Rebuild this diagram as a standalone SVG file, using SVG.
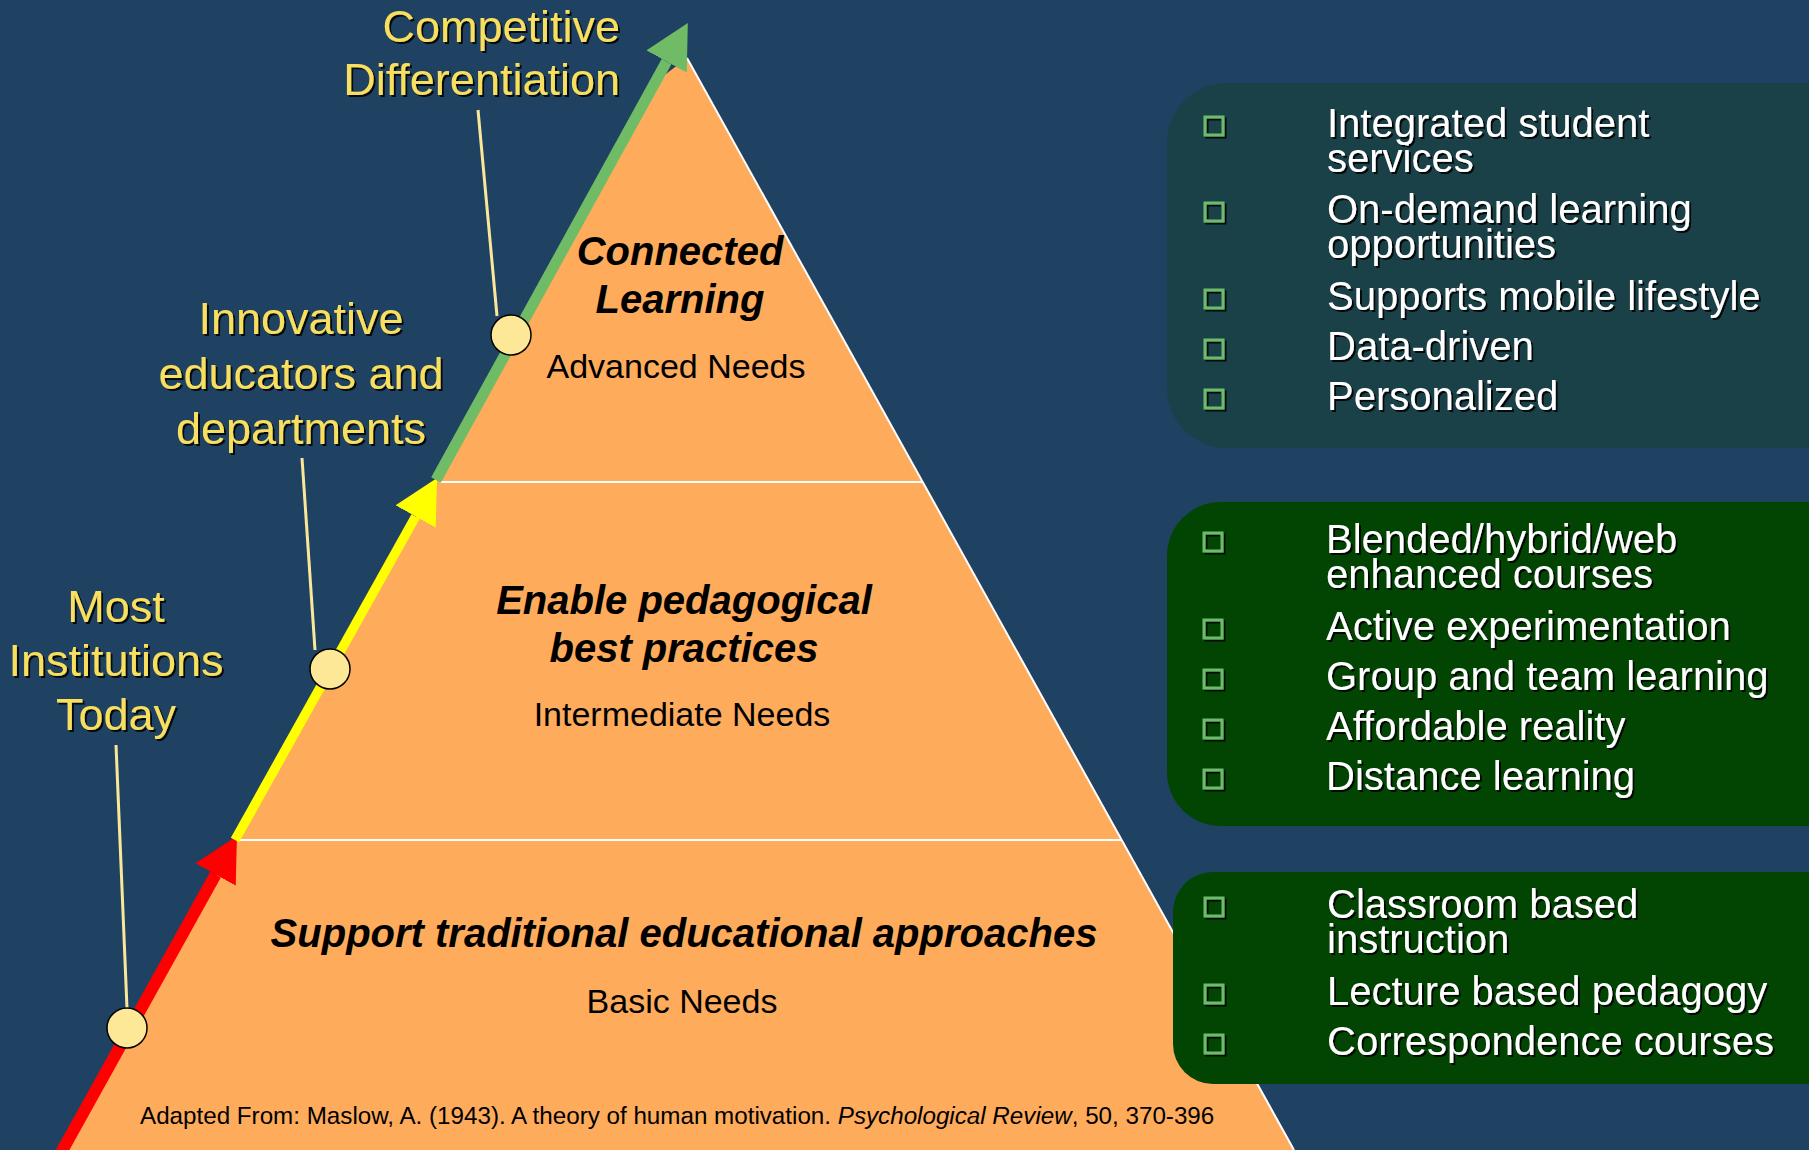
<svg xmlns="http://www.w3.org/2000/svg" width="1809" height="1150" viewBox="0 0 1809 1150">
  <defs>
    <style>
      .lbl { font-family: "Liberation Sans", Arial, sans-serif; font-size: 45px; fill: #f8df5e; text-anchor: middle; filter: url(#sh); }
      .head { font-family: "Liberation Sans", Arial, sans-serif; font-size: 40px; font-weight: bold; font-style: italic; fill: #000; text-anchor: middle; }
      .sub { font-family: "Liberation Sans", Arial, sans-serif; font-size: 34px; fill: #000; text-anchor: middle; }
      .item { font-family: "Liberation Sans", Arial, sans-serif; font-size: 40px; fill: #ffffff; filter: url(#sh); }
      .bul { fill: none; stroke: #6dbb6d; stroke-width: 3; filter: url(#sh); }
      .lead { stroke: #fbe79a; stroke-width: 3; fill: none; }
      .dot { fill: #fde898; stroke: #000; stroke-width: 1.5; }
      .div { stroke: #ffffff; stroke-width: 2; }
      .cite { font-family: "Liberation Sans", Arial, sans-serif; font-size: 24.2px; fill: #000; }
    </style>
    <filter id="sh" x="-10%" y="-20%" width="130%" height="150%">
      <feDropShadow dx="2" dy="2" stdDeviation="0.6" flood-color="#000" flood-opacity="0.85"/>
    </filter>
    <marker id="ahRed" viewBox="0 0 44 46" refX="0" refY="23" markerWidth="44" markerHeight="46" markerUnits="userSpaceOnUse" orient="auto">
      <path d="M0,0 L44,23 L0,46 Z" fill="#ff0000"/>
    </marker>
    <marker id="ahYel" viewBox="0 0 44 46" refX="0" refY="23" markerWidth="44" markerHeight="46" markerUnits="userSpaceOnUse" orient="auto">
      <path d="M0,0 L44,23 L0,46 Z" fill="#ffff00"/>
    </marker>
    <marker id="ahGrn" viewBox="0 0 44 46" refX="0" refY="23" markerWidth="44" markerHeight="46" markerUnits="userSpaceOnUse" orient="auto">
      <path d="M0,0 L44,23 L0,46 Z" fill="#6fbb66"/>
    </marker>
  </defs>

  <rect x="0" y="0" width="1809" height="1150" fill="#1f4262"/>

  <g id="pyramid">
    <polygon points="687,58 1294,1150 64,1150 658,80" fill="#ffab5c"/>
    <line x1="687" y1="58" x2="1294" y2="1150" stroke="#ffffff" stroke-width="2"/>
    <line class="div" x1="440" y1="482" x2="923" y2="482"/>
    <line class="div" x1="240" y1="840" x2="1121" y2="840"/>
  </g>

  <g id="level-top">
    <text class="head" x="680" y="265">Connected</text>
    <text class="head" x="680" y="313">Learning</text>
    <text class="sub" x="676" y="378">Advanced Needs</text>
  </g>
  <g id="level-middle">
    <text class="head" x="684" y="614">Enable pedagogical</text>
    <text class="head" x="684" y="662">best practices</text>
    <text class="sub" x="682" y="726">Intermediate Needs</text>
  </g>
  <g id="level-bottom">
    <text class="head" x="684" y="947">Support traditional educational approaches</text>
    <text class="sub" x="682" y="1013">Basic Needs</text>
  </g>

  <g id="citation">
    <text class="cite" x="140" y="1124">Adapted From: Maslow, A. (1943). A theory of human motivation. <tspan font-style="italic">Psychological Review</tspan>, 50, 370-396</text>
  </g>

  <g id="connectors">
    <line x1="57" y1="1160" x2="215.6" y2="874.5" stroke="#ff0000" stroke-width="12" marker-end="url(#ahRed)"/>
    <line x1="235" y1="840" x2="415.6" y2="516.5" stroke="#ffff00" stroke-width="9.5" marker-end="url(#ahYel)"/>
    <line x1="436" y1="480" x2="666.6" y2="61.5" stroke="#6fbb66" stroke-width="11" marker-end="url(#ahGrn)"/>
    <line class="lead" x1="116" y1="745" x2="127" y2="1008"/>
    <line class="lead" x1="302" y1="458" x2="315" y2="650"/>
    <line class="lead" x1="478" y1="110" x2="497" y2="316"/>
  </g>

  <g id="label-most">
    <text class="lbl" x="116" y="622">Most</text>
    <text class="lbl" x="116" y="676">Institutions</text>
    <text class="lbl" x="116" y="730">Today</text>
  </g>
  <g id="label-innovative">
    <text class="lbl" x="301" y="334">Innovative</text>
    <text class="lbl" x="301" y="389">educators and</text>
    <text class="lbl" x="301" y="444">departments</text>
  </g>
  <g id="label-competitive">
    <text class="lbl" x="620" y="42" style="text-anchor:end">Competitive</text>
    <text class="lbl" x="620" y="95" style="text-anchor:end">Differentiation</text>
  </g>

  <g id="marker-most"><circle class="dot" cx="127" cy="1028" r="20"/></g>
  <g id="marker-innovative"><circle class="dot" cx="330" cy="669" r="20"/></g>
  <g id="marker-competitive"><circle class="dot" cx="511" cy="335" r="20"/></g>

  <g id="panel-advanced">
    <rect x="1167" y="83" width="700" height="365" rx="60" fill="#1a4147"/>
    <rect class="bul" x="1205" y="117" width="18" height="18"/>
    <rect class="bul" x="1205" y="203" width="18" height="18"/>
    <rect class="bul" x="1205" y="290" width="18" height="18"/>
    <rect class="bul" x="1205" y="340" width="18" height="18"/>
    <rect class="bul" x="1205" y="390" width="18" height="18"/>
    <text class="item" x="1327" y="137">Integrated student</text>
    <text class="item" x="1327" y="172">services</text>
    <text class="item" x="1327" y="223">On-demand learning</text>
    <text class="item" x="1327" y="258">opportunities</text>
    <text class="item" x="1327" y="310">Supports mobile lifestyle</text>
    <text class="item" x="1327" y="360">Data-driven</text>
    <text class="item" x="1327" y="410">Personalized</text>
  </g>

  <g id="panel-intermediate">
    <rect x="1167" y="502" width="700" height="324" rx="54" fill="#024502"/>
    <rect class="bul" x="1204" y="533" width="18" height="18"/>
    <rect class="bul" x="1204" y="620" width="18" height="18"/>
    <rect class="bul" x="1204" y="670" width="18" height="18"/>
    <rect class="bul" x="1204" y="720" width="18" height="18"/>
    <rect class="bul" x="1204" y="770" width="18" height="18"/>
    <text class="item" x="1326" y="553">Blended/hybrid/web</text>
    <text class="item" x="1326" y="588">enhanced courses</text>
    <text class="item" x="1326" y="640">Active experimentation</text>
    <text class="item" x="1326" y="690">Group and team learning</text>
    <text class="item" x="1326" y="740">Affordable reality</text>
    <text class="item" x="1326" y="790">Distance learning</text>
  </g>

  <g id="panel-basic">
    <rect x="1173" y="872" width="700" height="212" rx="40" fill="#024502"/>
    <rect class="bul" x="1205" y="898" width="18" height="18"/>
    <rect class="bul" x="1205" y="985" width="18" height="18"/>
    <rect class="bul" x="1205" y="1035" width="18" height="18"/>
    <text class="item" x="1327" y="918">Classroom based</text>
    <text class="item" x="1327" y="953">instruction</text>
    <text class="item" x="1327" y="1005">Lecture based pedagogy</text>
    <text class="item" x="1327" y="1055">Correspondence courses</text>
  </g>
</svg>
